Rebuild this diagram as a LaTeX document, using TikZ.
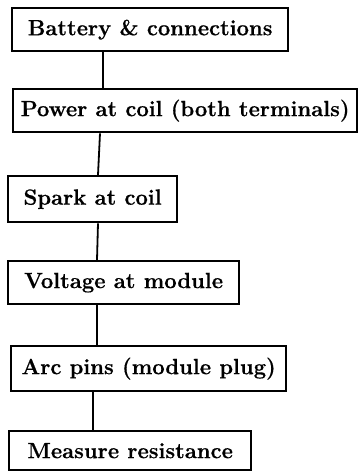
\documentclass[tikz,border=0pt]{standalone}
\usepackage{fontspec}
\setmainfont{Latin Modern Roman}[BoldFeatures={FakeBold=0.6}]
\begin{document}
\begin{tikzpicture}[x=1pt,y=-1pt,
  stepbox/.style={draw=black,line width=2.3pt,anchor=north west,inner sep=1pt,
    font=\fontsize{22}{24}\selectfont\bfseries,text=black},
  link/.style={draw=black,line width=1.8pt}]
\useasboundingbox (0,0) rectangle (358,472);
\node[stepbox,minimum width=276pt,minimum height=43pt] (b1) at (11,7) {Battery \& connections};
\node[stepbox,minimum width=344pt,minimum height=43pt] (b2) at (12,88) {Power at coil (both terminals)};
\node[stepbox,minimum width=169pt,minimum height=46pt] (b3) at (7,175) {Spark at coil};
\node[stepbox,minimum width=231pt,minimum height=43pt] (b4) at (7,260) {Voltage at module};
\node[stepbox,minimum width=275pt,minimum height=45pt] (b5) at (10,345) {Arc pins (module plug)};
\node[stepbox,minimum width=242pt,minimum height=39pt] (b6) at (8,430) {Measure resistance};
\draw[link] ([xshift=92pt]b1.south west) -- ([xshift=91pt]b2.north west);
\draw[link] ([xshift=88pt]b2.south west) -- ([xshift=91pt]b3.north west);
\draw[link] ([xshift=91pt]b3.south west) -- ([xshift=90pt]b4.north west);
\draw[link] ([xshift=90pt]b4.south west) -- ([xshift=87pt]b5.north west);
\draw[link] ([xshift=83pt]b5.south west) -- ([xshift=85pt]b6.north west);
\end{tikzpicture}
\end{document}
